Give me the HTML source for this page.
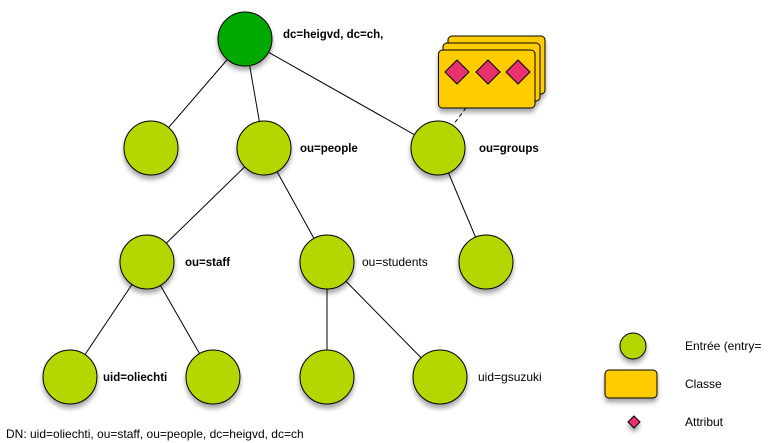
<!DOCTYPE html>
<html><head><meta charset="utf-8"><style>
html,body{margin:0;padding:0;background:#fff;width:768px;height:443px;overflow:hidden}
svg text{font-family:"Liberation Sans",Arial,sans-serif;font-size:12px;fill:#000}
.b{font-weight:bold;font-size:11.5px}
</style></head><body>
<svg width="768" height="443" viewBox="0 0 768 443" xmlns="http://www.w3.org/2000/svg">
<defs>
<filter id="sh" x="-30%" y="-30%" width="170%" height="170%"><feDropShadow dx="0" dy="4" stdDeviation="2.5" flood-color="#000" flood-opacity="0.35"/></filter>
</defs>
<g stroke="#000" stroke-width="1">
<line x1="245" y1="39" x2="151" y2="148"/>
<line x1="245" y1="39" x2="264" y2="148"/>
<line x1="245" y1="39" x2="438" y2="148"/>
<line x1="264" y1="148" x2="147" y2="262"/>
<line x1="264" y1="148" x2="327" y2="262"/>
<line x1="438" y1="148" x2="486" y2="262"/>
<line x1="147" y1="262" x2="70" y2="377"/>
<line x1="147" y1="262" x2="213" y2="377"/>
<line x1="327" y1="262" x2="327" y2="377"/>
<line x1="327" y1="262" x2="440" y2="377"/>
<line x1="466" y1="108" x2="453" y2="125" stroke-dasharray="4,3"/>
</g>
<g filter="url(#sh)" stroke="#000" stroke-width="1">
<circle cx="245" cy="39" r="27" fill="#00a800"/>
<g fill="#b5d600">
<circle cx="151" cy="148" r="27"/><circle cx="264" cy="148" r="27"/><circle cx="438" cy="148" r="27"/>
<circle cx="147" cy="262" r="27"/><circle cx="327" cy="262" r="27"/><circle cx="486" cy="262" r="27"/>
<circle cx="70" cy="377" r="27"/><circle cx="213" cy="377" r="27"/><circle cx="327" cy="377" r="27"/><circle cx="440" cy="377" r="27"/>
<circle cx="633" cy="346" r="13"/>
</g>
<g fill="#ffcc00">
<rect x="448" y="36" width="97" height="58" rx="4"/>
<rect x="443" y="43" width="97" height="58" rx="4"/>
<rect x="438.5" y="50" width="96.5" height="58" rx="4"/>
<rect x="605" y="370" width="52" height="28" rx="4"/>
</g>
<g fill="#e8306f">
<polygon points="457,60 469,72 457,84 445,72"/>
<polygon points="488,60 500,72 488,84 476,72"/>
<polygon points="518,60 530,72 518,84 506,72"/>
<polygon points="634,416 640,422 634,428 628,422"/>
</g>
</g>
<text class="b" x="283" y="38">dc=heigvd, dc=ch,</text>
<text class="b" x="300" y="152">ou=people</text>
<text class="b" x="479" y="152">ou=groups</text>
<text class="b" x="185" y="266">ou=staff</text>
<text x="362" y="266">ou=students</text>
<text class="b" x="103" y="381">uid=oliechti</text>
<text x="478" y="381">uid=gsuzuki</text>
<text x="6" y="438">DN: uid=oliechti, ou=staff, ou=people, dc=heigvd, dc=ch</text>
<text x="685" y="350">Entrée (entry=</text>
<text x="685" y="388">Classe</text>
<text x="685" y="426">Attribut</text>
</svg>
</body></html>
